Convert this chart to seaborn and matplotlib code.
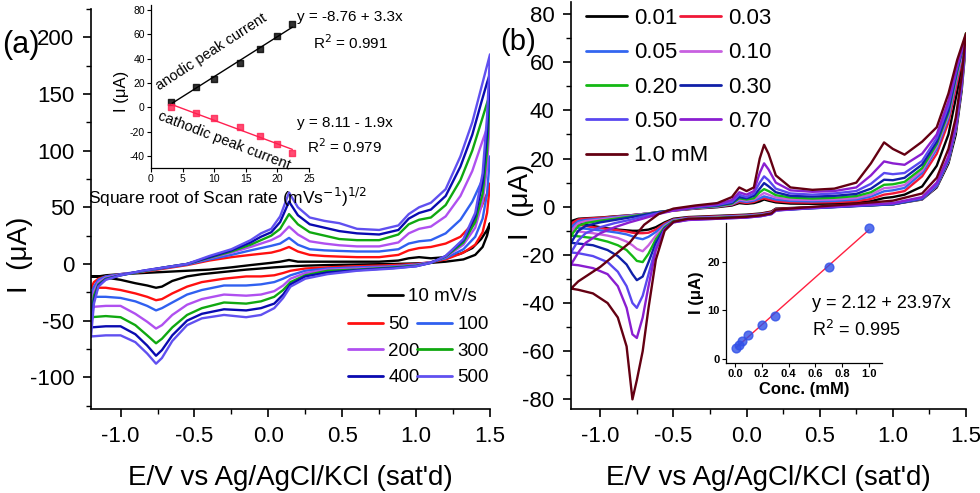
import numpy as np
import pandas as pd
import matplotlib
matplotlib.use('Agg')
import matplotlib.pyplot as plt
from matplotlib.lines import Line2D
from matplotlib.legend import Legend
from matplotlib.ticker import MultipleLocator
import seaborn as sns

# ---------------- panel (a): CVs at different scan rates ----------------
rate_labels = ['10 mV/s', '50', '100', '200', '300', '400', '500']
rate_colors = ['#000000', '#ff1010', '#3060f0', '#b050f0', '#10a810', '#0a0ab0', '#6050f0']

ea_fwd = [-1.2, -1.18, -1.15, -1.1, -1.0, -0.85, -0.7, -0.55, -0.4, -0.25, -0.12, -0.05, 0.02, 0.08,
          0.14, 0.2, 0.28, 0.38, 0.48, 0.6, 0.75, 0.88, 0.95, 1.02, 1.1, 1.2, 1.3, 1.38, 1.44, 1.48, 1.5]
ea_rev = [1.5, 1.48, 1.45, 1.4, 1.32, 1.2, 1.1, 1.0, 0.85, 0.6, 0.4, 0.25, 0.15, 0.1, 0.04, -0.05,
          -0.15, -0.3, -0.45, -0.55, -0.65, -0.72, -0.76, -0.82, -0.9, -1.0, -1.1, -1.2]

fwd_10 = [-11, -11, -11, -10, -9, -8, -7, -6, -5, -3, -1, 0, 1, 2, 3.5, 2, 2, 2, 2, 2, 2, 3, 5, 6, 5, 6, 9, 14, 22, 30, 36]
rev_10 = [36, 25, 15, 8, 4, 2, 1, 0.5, 0, -0.5, -1, -1.5, -2, -2.5, -3, -4, -5, -7, -9, -11, -15, -20, -21, -19, -17, -14, -12, -11]
fwd_50 = [-21, -16, -13, -11, -9, -7, -4, -1, 3, 6, 8, 9, 10, 12, 15, 11, 8, 7, 6.5, 6, 6, 8, 12, 14, 15, 18, 24, 35, 50, 62, 71]
rev_50 = [71, 45, 28, 17, 10, 4, 1.5, 0, -1, -2, -3, -4, -6, -8, -10, -11, -11, -13, -16, -20, -26, -31, -32, -29, -26, -23, -21, -21]
fwd_100 = [-29, -20, -14, -11, -9, -6.5, -3.5, -0.5, 4, 8, 12, 14, 16, 18, 23, 17, 13, 12, 11.5, 11, 11, 13, 18, 20, 21, 27, 39, 55, 72, 86, 95]
rev_100 = [95, 62, 40, 24, 13, 5, 1.5, -0.5, -2, -3, -4, -6, -10, -13, -16, -18, -19, -19, -23, -27, -34, -39, -41, -37, -33, -30, -29, -29]
fwd_200 = [-38, -24, -16, -12, -9.5, -6.5, -3, 0, 5, 10, 15, 18, 21, 25, 33, 26, 20, 18, 16.5, 15.5, 15.5, 19, 27, 31, 33, 42, 60, 82, 105, 120, 130]
rev_200 = [130, 85, 55, 32, 17, 6, 1.5, -1, -2.5, -4, -5, -8, -13, -19, -24, -27, -28, -27, -31, -36, -45, -54, -57, -51, -44, -37, -37, -38]
fwd_300 = [-47, -28, -18, -13, -10, -6.5, -3, 0, 5.5, 11, 17, 21, 25, 31, 44, 35, 28, 25, 22, 21, 21, 26, 35, 39, 41, 52, 74, 100, 125, 142, 150]
rev_300 = [150, 100, 62, 37, 19, 6.5, 1, -1.5, -3, -5, -6, -10, -16, -23, -29, -33, -35, -34, -39, -45, -56, -66, -70, -63, -54, -47, -46, -47]
fwd_400 = [-56, -32, -19, -13.5, -10, -6, -3, 0, 6, 12, 19, 24, 28, 37, 55, 43, 35, 32, 29, 27, 26, 30, 40, 45, 48, 60, 86, 114, 142, 160, 168]
rev_400 = [168, 115, 72, 42, 21, 7, 1, -2, -3.5, -5.5, -7.5, -11, -18, -27, -35, -39, -41, -40, -44, -50, -63, -76, -81, -72, -62, -55, -55, -56]
fwd_500 = [-64, -35, -20, -14, -10, -6, -3, 0, 7, 13, 21, 27, 31, 42, 63, 50, 41, 38, 36, 31, 30, 34, 44, 50, 54, 66, 95, 125, 155, 175, 185]
rev_500 = [185, 130, 80, 45, 22, 7, 1, -2, -4, -6, -9, -13, -20, -30, -39, -45, -47, -45, -48, -54, -68, -83, -88, -79, -69, -63, -63, -64]

# inset (a): peak currents vs square root of scan rate
scan_rates = [10, 50, 100, 200, 300, 400, 500]
ipa = [4.5, 16.4, 23, 36.5, 48, 58.5, 68]
ipc = [0, -4.9, -9.3, -16.7, -23.5, -30.4, -37.3]

# ---------------- panel (b): CVs at different concentrations ----------------
conc_labels = ['0.01', '0.03', '0.05', '0.10', '0.20', '0.30', '0.50', '0.70', '1.0 mM']
conc_colors = ['#000000', '#f01838', '#3366f0', '#c860e0', '#14b814', '#1020a8', '#5a48f0', '#8a1ed0', '#640012']

eb_fwd = [-1.2, -1.15, -1.1, -1.0, -0.9, -0.8, -0.7, -0.6, -0.5, -0.35, -0.2, -0.1, -0.05, 0.0, 0.05, 0.09,
          0.12, 0.15, 0.2, 0.3, 0.45, 0.6, 0.75, 0.85, 0.94, 1.0, 1.08, 1.2, 1.3, 1.38, 1.44, 1.5]
eb_rev = [1.5, 1.47, 1.43, 1.38, 1.3, 1.2, 1.0, 0.7, 0.4, 0.2, 0.17, 0.1, 0.0, -0.2, -0.4, -0.5,
          -0.56, -0.62, -0.67, -0.71, -0.75, -0.78, -0.82, -0.88, -0.95, -1.05, -1.15, -1.2]

fwd_c001 = [-6, -5, -4.8, -4.5, -4, -3.6, -3, -2.3, -1.6, -0.8, -0.2, 0.5, 1.5, 1.2, 1.5, 2.2, 3, 2.5, 1.8, 1.3, 1.2, 1.3, 1.6, 2.3, 3.6, 4, 5, 8.4, 17, 30, 48, 68]
rev_c001 = [68, 48, 30, 18, 8, 3, 1, 0.3, -0.3, -0.8, -2, -2.8, -3.3, -3.8, -4.3, -5, -6.5, -8.5, -9.5, -9.8, -10, -10, -9.8, -9.5, -9, -8, -6.8, -6]
fwd_c003 = [-7, -5.3, -5, -4.6, -4.1, -3.6, -3, -2.3, -1.6, -0.7, 0, 0.8, 2, 1.5, 2, 3, 3.5, 3, 2.3, 1.8, 1.7, 1.9, 2.3, 3.2, 5, 5.5, 6.5, 12.6, 22, 35, 52, 70]
rev_c003 = [70, 50, 32, 19, 8.5, 3.2, 1.1, 0.3, -0.4, -1, -2.2, -3, -3.5, -4, -4.5, -5.3, -7, -9.5, -10.8, -11, -11, -10.8, -10.3, -9.8, -9.3, -8.5, -7.5, -7]
fwd_c005 = [-8.5, -6, -5.5, -5, -4.3, -3.7, -3, -2.2, -1.5, -0.6, 0.1, 1, 2.5, 2, 2.5, 3.5, 4.3, 3.8, 3, 2.4, 2.2, 2.4, 3, 4.2, 6.4, 6.8, 7.8, 14, 24, 37, 54, 70]
rev_c005 = [70, 50, 32, 19, 8.5, 3.2, 1.1, 0.3, -0.5, -1.2, -2.5, -3.2, -3.7, -4.2, -4.7, -5.5, -7.5, -10.5, -12.5, -13.5, -13, -12.3, -11.5, -10.8, -10.2, -9.5, -8.8, -8.5]
fwd_c010 = [-10, -6.8, -6, -5.3, -4.6, -3.9, -3, -2.2, -1.5, -0.5, 0.2, 1.1, 3, 2.5, 3, 4.5, 5.7, 5, 3.8, 3, 2.8, 3, 3.6, 5, 7.7, 8, 9, 15, 25, 38, 55, 70]
rev_c010 = [70, 50, 32, 19, 8.5, 3.2, 1.0, 0.2, -0.6, -1.3, -2.7, -3.4, -3.9, -4.4, -4.9, -5.8, -8, -12, -16, -18.5, -17.5, -16, -14.5, -13, -12, -11, -10.3, -10]
fwd_c020 = [-12, -8, -6.8, -5.8, -5, -4.1, -3.2, -2.2, -1.4, -0.4, 0.3, 1.3, 3.5, 3, 3.5, 6, 7.3, 6.5, 4.8, 3.8, 3.4, 3.7, 4.4, 6, 9.1, 9.3, 10.3, 16, 26, 39, 56, 72]
rev_c020 = [72, 52, 33, 19.5, 8.8, 3.3, 1.0, 0.2, -0.7, -1.4, -2.9, -3.6, -4.1, -4.6, -5.1, -6, -8.5, -13.5, -19.5, -23, -22.5, -20.5, -18, -16, -14.5, -13, -12.3, -12]
fwd_c030 = [-15, -10, -8, -6.5, -5.5, -4.5, -3.4, -2.3, -1.4, -0.3, 0.5, 1.6, 4, 3.5, 4.5, 7.5, 9.8, 8.5, 6, 4.5, 4.2, 4.5, 5.3, 7.5, 11.2, 11, 12, 17.5, 27, 40, 57, 71]
rev_c030 = [71, 51, 33, 19.5, 8.8, 3.3, 1.0, 0.1, -0.8, -1.5, -3, -3.8, -4.3, -4.8, -5.3, -6.3, -9, -15, -23, -29, -30.5, -28, -24, -20.5, -18, -16, -15.3, -15]
fwd_c050 = [-19, -14, -11, -8.5, -6.8, -5.5, -4, -2.6, -1.5, -0.2, 0.7, 2, 5, 4, 5.5, 10, 12.6, 11, 7.5, 5.5, 5, 5.5, 6.5, 9.5, 14, 13.5, 14, 19, 28.5, 42, 58, 71]
rev_c050 = [71, 51, 33, 20, 9, 3.5, 1.2, 0.2, -0.8, -1.6, -3.1, -3.9, -4.5, -5, -5.5, -6.5, -9.5, -17, -28, -37, -42, -40, -33, -27, -23, -20.5, -19.3, -19]
fwd_c070 = [-24, -19, -15, -11, -8.5, -6.5, -4.8, -3, -1.6, 0, 1, 2.8, 6, 5, 6.5, 14, 18, 15.5, 10, 6.8, 6.2, 6.5, 8, 13, 18.8, 18, 17.4, 22, 30, 44, 59, 71]
rev_c070 = [71, 52, 34, 21, 10, 4, 1.5, 0.5, -0.6, -1.5, -3, -3.9, -4.5, -5, -5.5, -6.5, -9.5, -18, -33, -46, -54.5, -53, -42, -33, -28, -25.5, -24.3, -24]
fwd_c100 = [-34, -31, -29, -25, -20, -15, -7.5, -3, -0.8, 0.5, 1.5, 4, 8, 6.5, 8, 20, 25.7, 22, 13, 8, 7, 7.5, 10, 18, 26.7, 24, 21.6, 27, 33, 47, 61, 72]
rev_c100 = [72, 54, 37, 24, 12, 5.5, 2.5, 1.0, -0.3, -1.2, -2.8, -3.6, -4.2, -4.8, -5, -6.3, -10, -22, -42, -60, -72, -80, -58, -46, -40, -36, -34.5, -34]

# inset (b): calibration
conc_mM = [0.01, 0.03, 0.05, 0.10, 0.20, 0.30, 0.70, 1.00]
i_cal = [2.2, 3.0, 3.8, 4.9, 7.1, 8.8, 18.9, 27.0]


def cv_frame(label, e_fwd, i_fwd, e_rev, i_rev):
    return pd.DataFrame({'E': list(e_fwd) + list(e_rev),
                         'I': list(i_fwd) + list(i_rev),
                         'curve': label})


sns.set_theme(style='ticks')
plt.rcParams['font.family'] = ['Liberation Sans', 'DejaVu Sans']
plt.rcParams['axes.unicode_minus'] = False
plt.rcParams['axes.edgecolor'] = 'black'
plt.rcParams['axes.labelcolor'] = 'black'
plt.rcParams['xtick.color'] = 'black'
plt.rcParams['ytick.color'] = 'black'
plt.rcParams['text.color'] = 'black'

fig = plt.figure(figsize=(9.8, 4.93), dpi=100)
W, H = 980.0, 493.0


def fx(px):
    return px / W


def fy(py):
    return 1 - py / H


def style_main(ax):
    for s in ['top', 'right']:
        ax.spines[s].set_visible(False)
    for s in ['left', 'bottom']:
        ax.spines[s].set_linewidth(1.2)
    ax.tick_params(which='major', direction='out', length=6, width=1.2, labelsize=16, pad=6)
    ax.tick_params(which='minor', direction='out', length=3.5, width=1.0)
    ax.xaxis.set_major_locator(MultipleLocator(0.5))
    ax.xaxis.set_minor_locator(MultipleLocator(0.25))
    ax.set_xlim(-1.2, 1.5)
    ax.set_facecolor('none')


def column_legend(ax, handles, labels, px, py, size, spacing):
    # one legend column, placed in figure pixels (top-left corner)
    leg = Legend(ax, handles, labels, loc='upper left', bbox_to_anchor=(fx(px), fy(py)),
                 bbox_transform=fig.transFigure, frameon=False, fontsize=size,
                 handlelength=1.85, handletextpad=0.3, labelspacing=spacing,
                 borderpad=0, borderaxespad=0)
    ax.add_artist(leg)
    return leg


# ---------- panel (a) ----------
ax_a = fig.add_axes([fx(91), fy(409), fx(490) - fx(91), fy(9) - fy(409)])
fwd_a = [fwd_10, fwd_50, fwd_100, fwd_200, fwd_300, fwd_400, fwd_500]
rev_a = [rev_10, rev_50, rev_100, rev_200, rev_300, rev_400, rev_500]
df_a = pd.concat([cv_frame(lab, ea_fwd, f, ea_rev, r)
                  for lab, f, r in zip(rate_labels, fwd_a, rev_a)], ignore_index=True)
sns.lineplot(data=df_a, x='E', y='I', hue='curve', palette=dict(zip(rate_labels, rate_colors)),
             sort=False, estimator=None, linewidth=1.7, legend=False, ax=ax_a)
style_main(ax_a)
ax_a.set_ylim(-128, 225)
ax_a.yaxis.set_major_locator(MultipleLocator(50))
ax_a.yaxis.set_minor_locator(MultipleLocator(25))
ax_a.set_xlabel("E/V vs Ag/AgCl/KCl (sat'd)", fontsize=20)
ax_a.set_ylabel('I  (μA)', fontsize=20)
ax_a.xaxis.set_label_coords(0.5, -0.14)
ax_a.yaxis.set_label_coords(-0.145, 0.385)

h = [Line2D([], [], color=c, lw=2) for c in rate_colors]
column_legend(ax_a, [h[0]], [rate_labels[0]], 368, 288, 13.5, 0.4)
column_legend(ax_a, [h[1], h[3], h[5]], [rate_labels[1], rate_labels[3], rate_labels[5]], 348, 316, 13.5, 0.5)
column_legend(ax_a, [h[2], h[4], h[6]], [rate_labels[2], rate_labels[4], rate_labels[6]], 417, 316, 13.5, 0.5)

# inset (a)
ax_ia = fig.add_axes([fx(151), fy(168), fx(309) - fx(151), fy(5) - fy(168)])
x_sqrt = np.sqrt(scan_rates)
sns.regplot(x=x_sqrt, y=ipa, ax=ax_ia, ci=None, marker='s', color='black',
            scatter_kws={'s': 16}, line_kws={'lw': 1.0})
sns.regplot(x=x_sqrt, y=ipc, ax=ax_ia, ci=None, marker='s', color='#ff2050',
            scatter_kws={'s': 16}, line_kws={'lw': 1.0})
ax_ia.set_xlim(0, 25)
ax_ia.set_ylim(-50, 84)
ax_ia.xaxis.set_major_locator(MultipleLocator(5))
ax_ia.yaxis.set_major_locator(MultipleLocator(20))
ax_ia.set_facecolor('none')
for s in ['top', 'right']:
    ax_ia.spines[s].set_visible(False)
for s in ['left', 'bottom']:
    ax_ia.spines[s].set_linewidth(0.9)
ax_ia.tick_params(direction='out', length=3, width=0.8, labelsize=7.5, pad=1.5)
ax_ia.set_xlabel('')
ax_ia.set_ylabel('I (μA)', fontsize=12)
ax_ia.yaxis.set_label_coords(-0.14, 0.47)
fig.text(fx(228), fy(197), r'Square root of Scan rate (mVs$^{-1}$)$^{1/2}$', fontsize=12.5,
         ha='center', va='center')
fig.text(fx(211), fy(52), 'anodic peak current', fontsize=10.5, rotation=33,
         ha='center', va='center', rotation_mode='anchor')
fig.text(fx(224), fy(141), 'cathodic peak current', fontsize=10.5, rotation=-21,
         ha='center', va='center', rotation_mode='anchor')
fig.text(fx(297), fy(17), 'y = -8.76 + 3.3x', fontsize=11, ha='left', va='center')
fig.text(fx(313), fy(43), r'R$^2$ = 0.991', fontsize=11, ha='left', va='center')
fig.text(fx(297), fy(123), 'y = 8.11 - 1.9x', fontsize=11, ha='left', va='center')
fig.text(fx(307), fy(147), r'R$^2$ = 0.979', fontsize=11, ha='left', va='center')

# ---------- panel (b) ----------
ax_b = fig.add_axes([fx(571), fy(409), fx(966) - fx(571), fy(2) - fy(409)])
fwd_b = [fwd_c001, fwd_c003, fwd_c005, fwd_c010, fwd_c020, fwd_c030, fwd_c050, fwd_c070, fwd_c100]
rev_b = [rev_c001, rev_c003, rev_c005, rev_c010, rev_c020, rev_c030, rev_c050, rev_c070, rev_c100]
df_b = pd.concat([cv_frame(lab, eb_fwd, f, eb_rev, r)
                  for lab, f, r in zip(conc_labels, fwd_b, rev_b)], ignore_index=True)
sns.lineplot(data=df_b, x='E', y='I', hue='curve', palette=dict(zip(conc_labels, conc_colors)),
             sort=False, estimator=None, linewidth=1.7, legend=False, ax=ax_b)
style_main(ax_b)
ax_b.set_ylim(-84, 85)
ax_b.yaxis.set_major_locator(MultipleLocator(20))
ax_b.yaxis.set_minor_locator(MultipleLocator(10))
ax_b.set_xlabel("E/V vs Ag/AgCl/KCl (sat'd)", fontsize=20)
ax_b.set_ylabel('I  (μA)', fontsize=20)
ax_b.xaxis.set_label_coords(0.5, -0.138)
ax_b.yaxis.set_label_coords(-0.094, 0.509)

hb = [Line2D([], [], color=c, lw=2) for c in conc_colors]
col1 = [0, 2, 4, 6, 8]
col2 = [1, 3, 5, 7]
column_legend(ax_b, [hb[i] for i in col1], [conc_labels[i] for i in col1], 586, 8, 16, 0.6)
column_legend(ax_b, [hb[i] for i in col2], [conc_labels[i] for i in col2], 680, 8, 16, 0.6)

# inset (b)
ax_ib = fig.add_axes([fx(726), fy(363), fx(882) - fx(726), fy(223) - fy(363)])
sns.regplot(x=conc_mM, y=i_cal, ax=ax_ib, ci=None, color='#3050e8',
            scatter_kws={'s': 40, 'zorder': 3}, line_kws={'color': '#ff2040', 'lw': 1.0})
ax_ib.set_xlim(-0.067, 1.097)
ax_ib.set_ylim(-0.8, 28)
ax_ib.xaxis.set_major_locator(MultipleLocator(0.2))
ax_ib.yaxis.set_major_locator(MultipleLocator(10))
ax_ib.set_facecolor('none')
for s in ['top', 'right']:
    ax_ib.spines[s].set_visible(False)
for s in ['left', 'bottom']:
    ax_ib.spines[s].set_linewidth(0.9)
ax_ib.tick_params(direction='out', length=3, width=0.8, labelsize=8, pad=1.5)
for t in ax_ib.get_xticklabels() + ax_ib.get_yticklabels():
    t.set_fontweight('bold')
ax_ib.set_xlabel('Conc. (mM)', fontsize=12, fontweight='bold', labelpad=2)
ax_ib.set_ylabel('I (μA)', fontsize=12, fontweight='bold', labelpad=2)
fig.text(fx(812), fy(303), 'y = 2.12 + 23.97x', fontsize=13, ha='left', va='center')
fig.text(fx(812), fy(330), r'R$^2$ = 0.995', fontsize=13, ha='left', va='center')

# panel labels
fig.text(0.002, fy(45), '(a)', fontsize=22, ha='left', va='center')
fig.text(fx(500), fy(42), '(b)', fontsize=21, ha='left', va='center')

fig.savefig('out.png', dpi=100)
